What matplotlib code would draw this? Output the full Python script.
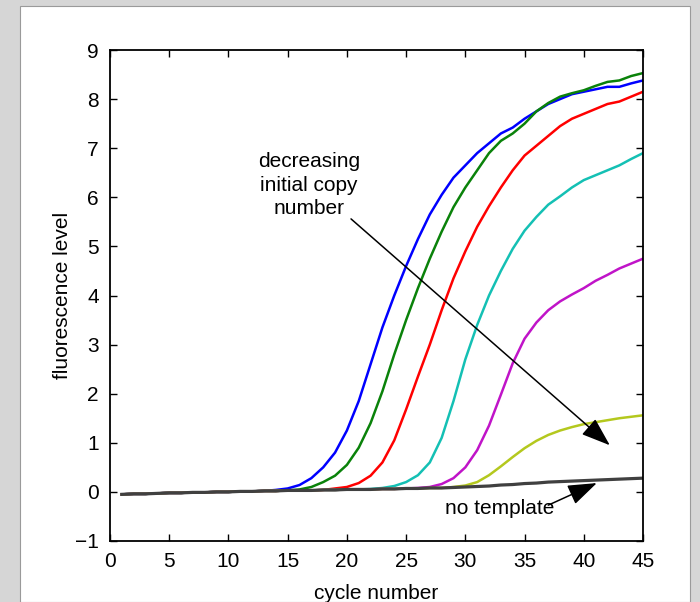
import matplotlib
matplotlib.use("Agg")
import matplotlib.pyplot as plt
from matplotlib.patches import Rectangle

plt.rcParams['font.family'] = ['Liberation Sans Narrow', 'Liberation Sans', 'DejaVu Sans']

cycles = list(range(1, 46))

# shared flat baseline, cycles 1..30
base = [-0.05, -0.04, -0.04, -0.03, -0.02, -0.02, -0.01, -0.01, 0.0, 0.0,
        0.01, 0.01, 0.02, 0.02, 0.03, 0.03, 0.03, 0.04, 0.04, 0.05,
        0.05, 0.05, 0.06, 0.06, 0.07, 0.07, 0.08, 0.08, 0.09, 0.10]

blue = base[:13] + [0.04, 0.07, 0.14, 0.28, 0.5, 0.8, 1.25, 1.85, 2.6, 3.35,
                    4.0, 4.6, 5.15, 5.65, 6.05, 6.4, 6.65, 6.9, 7.1, 7.3, 7.42,
                    7.6, 7.75, 7.9, 8.0, 8.1, 8.15, 8.2, 8.25, 8.25, 8.32, 8.38]
green = base[:15] + [0.05, 0.1, 0.2, 0.33, 0.55, 0.9, 1.4, 2.05, 2.8, 3.5,
                     4.15, 4.75, 5.3, 5.8, 6.2, 6.55, 6.9, 7.15, 7.3, 7.5,
                     7.75, 7.92, 8.05, 8.12, 8.18, 8.27, 8.35, 8.38, 8.47, 8.53]
red = base[:18] + [0.07, 0.1, 0.18, 0.33, 0.6, 1.05, 1.68, 2.35, 3.0, 3.7,
                   4.35, 4.9, 5.4, 5.82, 6.2, 6.55, 6.85, 7.05, 7.25, 7.45,
                   7.6, 7.7, 7.8, 7.9, 7.95, 8.05, 8.15]
cyan = base[:21] + [0.06, 0.08, 0.12, 0.2, 0.34, 0.6, 1.1, 1.85, 2.7, 3.4,
                    4.0, 4.5, 4.95, 5.32, 5.6, 5.85, 6.02, 6.2, 6.35, 6.45,
                    6.55, 6.65, 6.78, 6.9]
magenta = base[:25] + [0.08, 0.1, 0.16, 0.28, 0.5, 0.85, 1.35, 1.98, 2.62,
                       3.12, 3.45, 3.7, 3.88, 4.02, 4.15, 4.3, 4.42, 4.55,
                       4.65, 4.75]
yellow = base[:28] + [0.1, 0.13, 0.2, 0.34, 0.52, 0.71, 0.89, 1.04, 1.16,
                      1.25, 1.32, 1.38, 1.42, 1.46, 1.5, 1.53, 1.56]
no_template = base + [0.11, 0.12, 0.14, 0.15, 0.17, 0.18, 0.2, 0.21, 0.22,
                      0.23, 0.24, 0.25, 0.26, 0.27, 0.28]

series = [blue, green, red, cyan, magenta, yellow]
colors = ['#0000ff', '#0a820a', '#ff0000', '#14c0b4', '#c014c8', '#b4c81e']

fig = plt.figure(figsize=(7, 6.02), dpi=100, facecolor='#d6d6d6')
fig.patches.append(Rectangle((20 / 700, 0), 670 / 700, 596 / 602,
                             transform=fig.transFigure, facecolor='white',
                             edgecolor='#9a9a9a', linewidth=0.8, zorder=-10))

ax = fig.add_axes([110 / 700, 61 / 602, 533 / 700, 491 / 602])
ax.set_facecolor('white')

for vals, col in zip(series, colors):
    ax.plot(cycles, vals, color=col, linewidth=1.8)
ax.plot(cycles, no_template, color='#404040', linewidth=2.3)

ax.set_xlim(0, 45)
ax.set_ylim(-1, 9)
ax.set_xticks(range(0, 46, 5))
ax.set_yticks(range(-1, 10))
ax.set_yticklabels(['\u22121'] + [str(i) for i in range(0, 10)])
ax.tick_params(direction='in', top=True, right=True, length=5, width=1,
               labelsize=15, pad=8)
for s in ax.spines.values():
    s.set_linewidth(1.3)

ax.set_xlabel('cycle number', fontsize=15, labelpad=9)
ax.set_ylabel('fluorescence level', fontsize=15, labelpad=2)

ax.text(16.8, 6.25, 'decreasing\ninitial copy\nnumber', ha='center',
        va='center', fontsize=15, linespacing=1.3)
ax.annotate('', xy=(42.2, 0.95), xytext=(20.35, 5.56),
            arrowprops=dict(arrowstyle='-|>,head_length=0.9,head_width=0.32',
                            color='black', lw=1.1, mutation_scale=20,
                            shrinkA=0, shrinkB=0))

ax.text(32.9, -0.33, 'no template', ha='center', va='center', fontsize=15)
ax.annotate('', xy=(41.1, 0.18), xytext=(37.0, -0.27),
            arrowprops=dict(arrowstyle='-|>,head_length=0.9,head_width=0.32',
                            color='black', lw=1.1, mutation_scale=20,
                            shrinkA=0, shrinkB=0))

fig.savefig('out.png', dpi=100, facecolor=fig.get_facecolor())
